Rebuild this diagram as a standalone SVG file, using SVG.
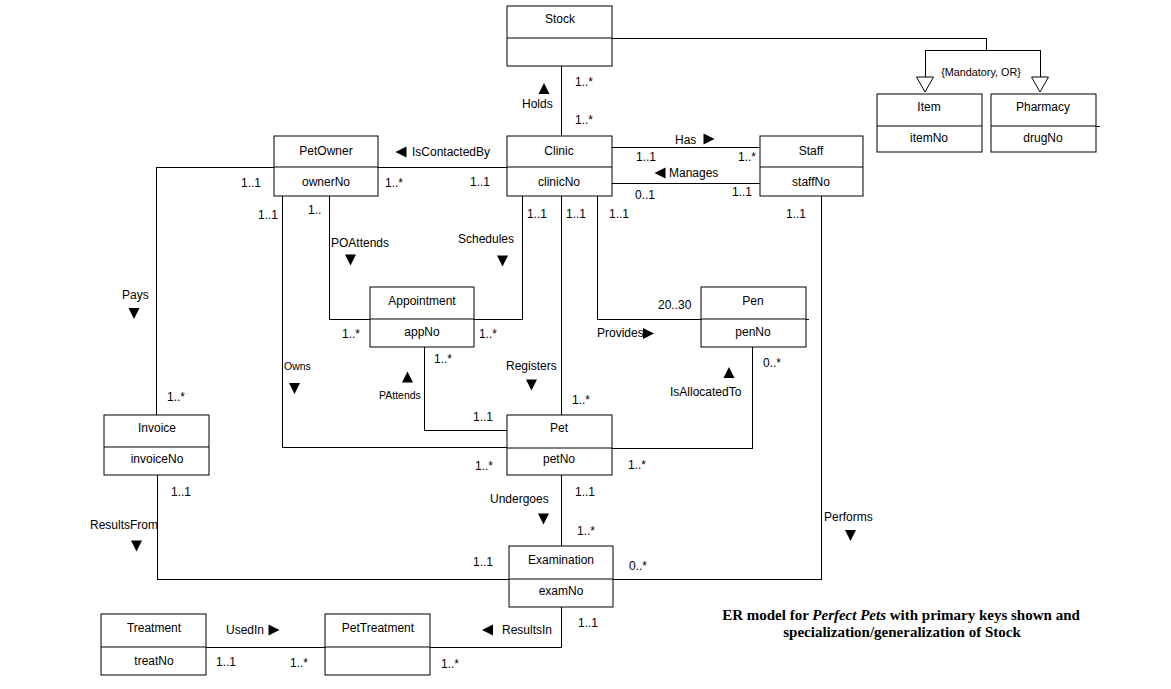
<svg xmlns="http://www.w3.org/2000/svg" width="1171" height="689" viewBox="0 0 1171 689">
<style>
  .box{fill:#fff;stroke:#000;stroke-width:1}
  .ln{fill:none;stroke:#000;stroke-width:1}
  text{font-family:"Liberation Sans",Arial,sans-serif;font-size:12px;fill:#000}
  .c{text-anchor:middle}
  .s{font-size:10.5px}
  .cap{font-family:"Liberation Serif","Times New Roman",serif;font-size:15px;font-weight:bold;text-anchor:middle}
  .tri{fill:#000}
  .gen{fill:#fff;stroke:#000;stroke-width:1}
</style>
<defs>
  <path id="dn" d="M-5.5,-5.5 H5.5 L0,5.5 Z"/>
  <path id="up" d="M-5.5,5.5 H5.5 L0,-5.5 Z"/>
  <path id="rt" d="M-5.5,-5.5 V5.5 L5.5,0 Z"/>
  <path id="lt" d="M5.5,-5.5 V5.5 L-5.5,0 Z"/>
</defs>
<rect width="1171" height="689" fill="#fff"/>

<g id="connectors" shape-rendering="crispEdges">
  <path class="ln" d="M561,66 V136"/>
  <path class="ln" d="M612,38 H986 V50 M925,50 H1040 M925,50 V77 M1040,50 V77"/>
  <path class="ln" d="M378,167 H507"/>
  <path class="ln" d="M274,167 H156 V415"/>
  <path class="ln" d="M612,147 H760"/>
  <path class="ln" d="M612,183 H760"/>
  <path class="ln" d="M821,196 V579 H613"/>
  <path class="ln" d="M282,196 V447 H507"/>
  <path class="ln" d="M329,196 V319 H370"/>
  <path class="ln" d="M522,196 V319 H474"/>
  <path class="ln" d="M561,196 V415"/>
  <path class="ln" d="M597,196 V319 H701"/>
  <path class="ln" d="M806,319 H809"/>
  <path class="ln" d="M424,347 V430 H507"/>
  <path class="ln" d="M752,347 V448 H612"/>
  <path class="ln" d="M157,475 V579 H509"/>
  <path class="ln" d="M561,475 V546"/>
  <path class="ln" d="M561,607 V647 H430"/>
  <path class="ln" d="M206,647 H325"/>
  <path class="ln" d="M1096,126 H1100"/>
</g>
<g id="gen-arrows">
  <path class="gen" d="M916.5,77 H933.5 L925,92 Z"/>
  <path class="gen" d="M1031.5,77 H1048.5 L1040,92 Z"/>
</g>

<g id="Stock"><rect class="box" x="507" y="6" width="105" height="60"/><path class="ln" d="M507,38 H612"/><text class="c" x="560" y="23">Stock</text></g>
<g id="Item"><rect class="box" x="877" y="94" width="105" height="58"/><path class="ln" d="M877,126 H982"/><text class="c" x="929" y="111">Item</text><text class="c" x="929" y="142">itemNo</text></g>
<g id="Pharmacy"><rect class="box" x="991" y="94" width="105" height="58"/><path class="ln" d="M991,126 H1096"/><text class="c" x="1043" y="111">Pharmacy</text><text class="c" x="1043" y="142">drugNo</text></g>
<g id="PetOwner"><rect class="box" x="274" y="136" width="104" height="60"/><path class="ln" d="M274,167 H378"/><text class="c" x="326" y="155">PetOwner</text><text class="c" x="326" y="186">ownerNo</text></g>
<g id="Clinic"><rect class="box" x="507" y="136" width="105" height="60"/><path class="ln" d="M507,167 H612"/><text class="c" x="559" y="155">Clinic</text><text class="c" x="559" y="186">clinicNo</text></g>
<g id="Staff"><rect class="box" x="760" y="136" width="103" height="60"/><path class="ln" d="M760,167 H863"/><text class="c" x="811" y="155">Staff</text><text class="c" x="811" y="186">staffNo</text></g>
<g id="Appointment"><rect class="box" x="370" y="287" width="104" height="60"/><path class="ln" d="M370,319 H474"/><text class="c" x="422" y="305">Appointment</text><text class="c" x="422" y="336">appNo</text></g>
<g id="Pen"><rect class="box" x="701" y="287" width="105" height="60"/><path class="ln" d="M701,319 H806"/><text class="c" x="753" y="305">Pen</text><text class="c" x="753" y="336">penNo</text></g>
<g id="Invoice"><rect class="box" x="104" y="415" width="105" height="60"/><path class="ln" d="M104,447 H209"/><text class="c" x="157" y="432">Invoice</text><text class="c" x="157" y="463">invoiceNo</text></g>
<g id="Pet"><rect class="box" x="507" y="415" width="105" height="60"/><path class="ln" d="M507,448 H612"/><text class="c" x="559" y="432">Pet</text><text class="c" x="559" y="463">petNo</text></g>
<g id="Examination"><rect class="box" x="509" y="546" width="104" height="61"/><path class="ln" d="M509,579 H613"/><text class="c" x="561" y="564">Examination</text><text class="c" x="561" y="595">examNo</text></g>
<g id="Treatment"><rect class="box" x="101" y="614" width="105" height="61"/><path class="ln" d="M101,647 H206"/><text class="c" x="154" y="632">Treatment</text><text class="c" x="154" y="665">treatNo</text></g>
<g id="PetTreatment"><rect class="box" x="325" y="614" width="105" height="61"/><path class="ln" d="M325,647 H430"/><text class="c" x="378" y="632">PetTreatment</text></g>

<g id="labels">
  <text x="575" y="86">1..*</text>
  <text x="575" y="124">1..*</text>
  <use href="#up" class="tri" x="544" y="88.5"/>
  <text x="522" y="108">Holds</text>
  <text class="s" x="981" y="76" style="text-anchor:middle;font-size:10.8px">{Mandatory, OR}</text>

  <use href="#lt" class="tri" x="401" y="152"/>
  <text x="412" y="156">IsContactedBy</text>
  <text x="675" y="144">Has</text>
  <use href="#rt" class="tri" x="709" y="139"/>
  <text x="636" y="161">1..1</text>
  <text x="738" y="161">1..*</text>
  <use href="#lt" class="tri" x="660" y="173"/>
  <text x="669" y="177">Manages</text>
  <text x="635" y="199">0..1</text>
  <text x="732" y="196">1..1</text>

  <text x="241" y="187">1..1</text>
  <text x="385" y="187">1..*</text>
  <text x="470" y="186">1..1</text>
  <text x="258" y="219">1..1</text>
  <text x="308" y="214">1..</text>
  <text x="527" y="218">1..1</text>
  <text x="566" y="218">1..1</text>
  <text x="609" y="218">1..1</text>
  <text x="786" y="218">1..1</text>

  <text x="331" y="247">POAttends</text>
  <use href="#dn" class="tri" x="350.5" y="260"/>
  <text x="458" y="243">Schedules</text>
  <use href="#dn" class="tri" x="502.5" y="261"/>
  <text x="122" y="299">Pays</text>
  <use href="#dn" class="tri" x="134" y="313.5"/>

  <text x="658" y="309">20..30</text>
  <text x="597" y="337">Provides</text>
  <use href="#rt" class="tri" x="648.5" y="333.5"/>
  <text x="342" y="338">1..*</text>
  <text x="479" y="338">1..*</text>
  <text x="434" y="363">1..*</text>
  <text class="s" x="284" y="370">Owns</text>
  <use href="#dn" class="tri" x="294.5" y="388.5"/>
  <text x="506" y="370">Registers</text>
  <use href="#dn" class="tri" x="531.5" y="385"/>
  <text x="763" y="367">0..*</text>
  <use href="#up" class="tri" x="729" y="372.5"/>
  <text x="670" y="396">IsAllocatedTo</text>
  <use href="#up" class="tri" x="407.5" y="377"/>
  <text class="s" x="379" y="399">PAttends</text>
  <text x="167" y="401">1..*</text>
  <text x="572" y="404">1..*</text>
  <text x="473" y="421">1..1</text>
  <text x="475" y="470">1..*</text>
  <text x="628" y="469">1..*</text>

  <text x="171" y="496">1..1</text>
  <text x="490" y="503">Undergoes</text>
  <use href="#dn" class="tri" x="543.5" y="519"/>
  <text x="575" y="496">1..1</text>
  <text x="824" y="521">Performs</text>
  <use href="#dn" class="tri" x="850.5" y="535.5"/>
  <text x="90" y="529">ResultsFrom</text>
  <use href="#dn" class="tri" x="136.5" y="546"/>
  <text x="577" y="535">1..*</text>
  <text x="473" y="566">1..1</text>
  <text x="629" y="570">0..*</text>

  <text x="226" y="634">UsedIn</text>
  <use href="#rt" class="tri" x="274" y="630"/>
  <use href="#lt" class="tri" x="487.5" y="630"/>
  <text x="502" y="634">ResultsIn</text>
  <text x="578" y="627">1..1</text>
  <text x="216" y="666">1..1</text>
  <text x="290" y="667">1..*</text>
  <text x="441" y="668">1..*</text>
</g>

<g id="caption">
  <text class="cap" x="901" y="620">ER model for <tspan font-style="italic">Perfect Pets</tspan> with primary keys shown and</text>
  <text class="cap" x="902" y="637">specialization/generalization of Stock</text>
</g>
</svg>
